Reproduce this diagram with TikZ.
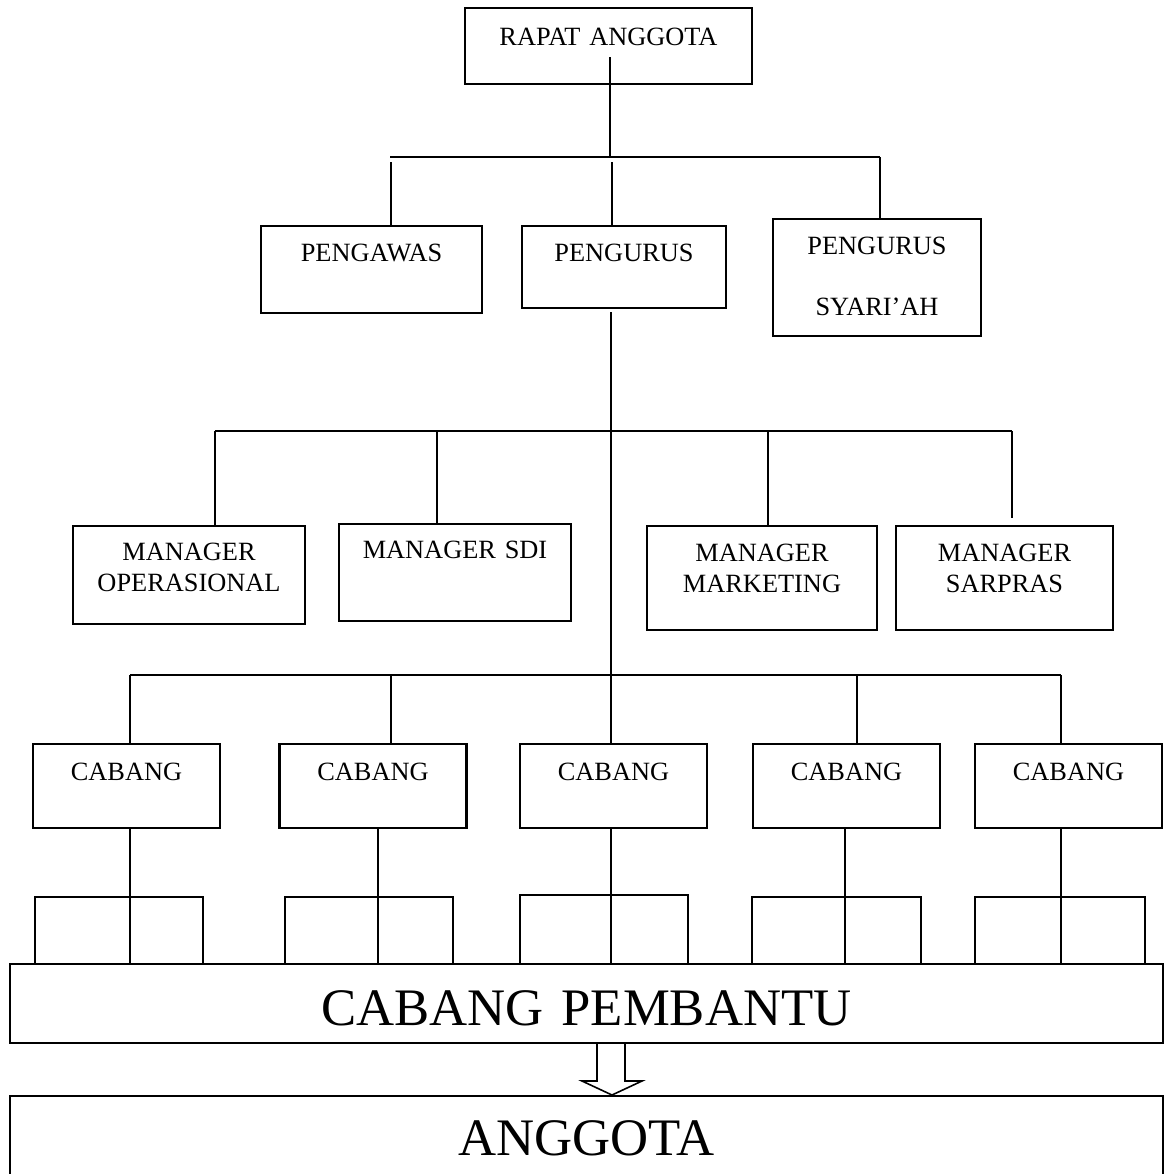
\documentclass[tikz,border=0pt]{standalone}
\usepackage{fontspec}
\setmainfont{Liberation Serif}
\usetikzlibrary{calc}
\def\sat{0.02cm}
\newcommand{\kecil}{\fontsize{15}{18}\selectfont}
\newcommand{\besar}{\fontsize{30}{36}\selectfont}
\tikzset{
  kotak/.style n args={3}{draw, line width=1.2pt, anchor=north, inner sep=0pt, font=\kecil,
    text width=#1*\sat, align=center, text height=#3*\sat, text depth=(#2-#3)*\sat},
  garis/.style={line width=1.2pt},
  kaki/.style={line width=0.9pt}
}

\begin{document}
\begin{tikzpicture}[x=0.02cm, y=-0.02cm]
	%%%%% START %%%%%
	\useasboundingbox (0,0) rectangle (1165,1174);
	\clip (0,0) rectangle (1165,1174);
	
	\node[kotak={287}{76}{37}] (rapat) at (608.5,7) {RAPAT ANGGOTA};
	
	\node[kotak={221}{87}{35}] (pengawas) at (371.5,225) {PENGAWAS};
	\node[kotak={204}{82}{35}] (pengurus) at (624,225) {PENGURUS};
	\node[kotak={208}{117}{35}] (syariah) at (877,218) {PENGURUS\\[17pt]SYARI'AH};
	
	\node[kotak={232}{98}{34}] (mops) at (189,525) {MANAGER\\OPERASIONAL};
	\node[kotak={232}{97}{34}] (msdi) at (455,523) {MANAGER SDI};
	\node[kotak={230}{104}{35}] (mmkt) at (762,525) {MANAGER\\MARKETING};
	\node[kotak={217}{104}{35}] (msar) at (1004.5,525) {MANAGER\\SARPRAS};
	
	\foreach \n/\x in {1/126.5, 2/373, 3/613.5, 4/846.5, 5/1068.5}
		\node[kotak={187}{84}{36}] (cab\n) at (\x,743) {CABANG};
	
	\node[kotak={1153}{79}{61}, font=\besar] (pembantu) at (586.5,963) {CABANG PEMBANTU};
	\node[kotak={1153}{110}{59}, font=\besar] (anggota) at (586.5,1095) {ANGGOTA};
	
	% rapat -> pengawas, pengurus, syariah
	\coordinate (bus1l) at (390,157);
	\coordinate (bus1r) at (880,157);
	\draw[garis] (610,57) -- (610,0 |- bus1l);
	\draw[garis] (bus1l) -- (bus1r);
	\draw[garis] (391,162) -- (391,0 |- pengawas.north);
	\draw[garis] (612,162) -- (612,0 |- pengurus.north);
	\draw[garis] (bus1r) -- (bus1r |- syariah.north);
	
	% pengurus -> manager, cabang
	\draw[garis] (611,312) -- (611,0 |- cab3.north);
	\coordinate (bus2l) at (215,431);
	\coordinate (bus2r) at (1012,431);
	\draw[garis] (bus2l) -- (bus2r);
	\draw[garis] (bus2l) -- (bus2l |- mops.north);
	\draw[garis] (437,431) -- (437,0 |- msdi.north);
	\draw[garis] (768,431) -- (768,0 |- mmkt.north);
	\draw[garis] (bus2r) -- (1012,518);
	
	\draw[garis] (130,675) -- (1061,675);
	\foreach \x/\n in {130/1, 391/2, 857/4, 1061/5}
		\draw[garis] (\x,675) -- (\x,0 |- cab\n.north);
	
	% cabang -> cabang pembantu
	\foreach \x/\n in {130/1, 378/2, 611/3, 845/4, 1061/5}
		\draw[garis] (\x,0 |- cab\n.south) -- (\x,0 |- pembantu.north);
	\foreach \a/\b/\t in {35/203/897, 285/453/897, 520/688/895, 752/921/897, 975/1145/897}
		\draw[kaki] (\a,0 |- pembantu.north) -- (\a,\t) -- (\b,\t) -- (\b,0 |- pembantu.north);
	
	% panah
	\draw[kaki] (597,0 |- pembantu.south) -- (597,1081) -- (582,1081) -- (612,0 |- anggota.north)
		-- (642,1081) -- (625,1081) -- (625,0 |- pembantu.south);
	
	%%%%% END %%%%%
\end{tikzpicture}
\end{document}
